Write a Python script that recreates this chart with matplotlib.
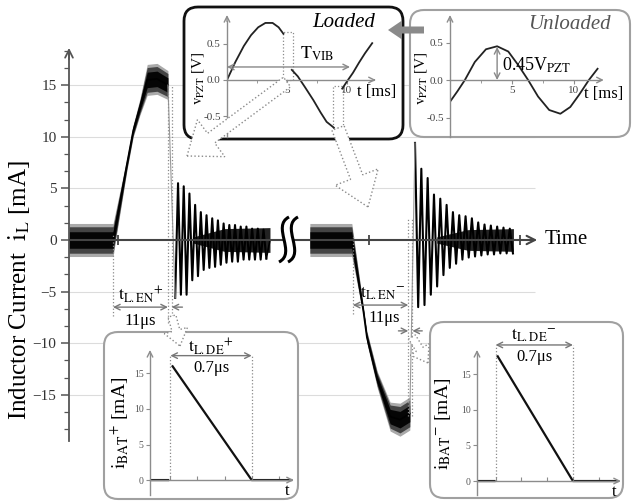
import matplotlib
matplotlib.use("Agg")
import matplotlib.pyplot as plt
import numpy as np
from matplotlib.patches import FancyBboxPatch, FancyArrow, Rectangle, PathPatch
from matplotlib.path import Path

plt.rcParams["font.family"] = ["Liberation Serif", "DejaVu Serif"]
plt.rcParams["mathtext.fontset"] = "stix"

W, H = 634, 501

# ---- main trace: time [us], inductor current [mA]
# positive harvesting event (left half)
pos_t = [0.0, 8.5, 11.2, 12.4, 13.7, 15.1, 17.0, 19.1]
pos_i = [0.0, 0.0, 7.4, 10.6, 12.9, 15.5, 15.6, 15.0]
pos_band = [1.6, 1.6, 0.6, 0.6, 0.8, 1.5, 1.5, 1.4]
pos_ring_start, pos_ring_half = 20.5, 0.55
pos_ring_hi = [5.5, 5.2, 4.5, 3.4, 2.7, 2.4, 2.1, 1.9, 1.6, 1.45, 1.45, 1.3, 1.3, 1.1, 1.1, 1.0]
pos_ring_lo = [-5.6, -5.3, -5.3, -3.9, -3.5, -2.9, -2.7, -2.6, -2.4, -2.2, -2.1, -2.1,
               -1.9, -1.9, -1.9, -1.9, -1.8]
pos_tail_t = [24.0, 30.0, 38.8]
pos_tail_w = [0.3, 1.1, 1.2]

# negative harvesting event (right half)
neg_t = [46.5, 54.6, 56.8, 57.5, 59.5, 62.0, 63.9, 65.8]
neg_i = [0.0, 0.0, -6.8, -9.4, -13.5, -17.1, -17.4, -16.8]
neg_band = [1.6, 1.6, 0.5, 0.6, 0.8, 1.4, 1.6, 1.6]
neg_ring_start, neg_ring_half = 66.8, 0.61
neg_ring_hi = [9.4, 6.9, 6.0, 4.4, 4.0, 3.4, 2.7, 2.4, 2.3, 2.1, 1.7, 1.5, 1.4, 1.3, 1.2, 1.1]
neg_ring_lo = [-6.5, -6.3, -5.3, -4.5, -3.4, -2.7, -2.3, -1.9, -1.7, -1.6, -1.5, -1.4,
               -1.4, -1.3, -1.3, -1.3]
neg_tail_t = [71.0, 77.0, 85.8]
neg_tail_w = [0.3, 1.0, 1.1]

grid_levels = [-15, -10, -5, 5, 10, 15]
axis_marks = [9.4, 57.9, 87.0]

# ---- loaded / unloaded PZT voltage: time [ms], voltage [V]
load_t1 = [0.0, 0.7, 1.4, 2.0, 2.6, 3.2, 3.8, 4.3, 4.7]
load_v1 = [0.0, 0.25, 0.47, 0.62, 0.73, 0.79, 0.79, 0.73, 0.64]
load_t2 = [5.4, 5.9, 6.5, 7.2, 7.8, 8.3, 8.9]
load_v2 = [0.14, 0.05, -0.1, -0.28, -0.45, -0.58, -0.66]
load_t3 = [9.6, 10.0, 10.5, 11.0, 11.5, 12.1]
load_v3 = [-0.12, -0.02, 0.1, 0.24, 0.37, 0.51]
unload_t = [0.0, 0.6, 1.2, 2.0, 2.9, 3.8, 4.7, 5.5, 6.3, 7.1, 8.0, 8.9, 9.7, 10.4, 11.2, 11.9]
unload_v = [-0.29, -0.15, 0.0, 0.24, 0.41, 0.45, 0.38, 0.2, 0.0, -0.22, -0.4, -0.45,
            -0.36, -0.2, 0.0, 0.15]

# ---- battery current: time [us], current [mA]
bat_p_t = [0.0, 0.16, np.nan, 0.2, 0.9, 1.25]
bat_p_i = [0.0, 0.0, np.nan, 16.0, 0.0, 0.0]
bat_n_t = [0.0, 0.16, np.nan, 0.19, 0.88, 1.28]
bat_n_i = [0.0, 0.0, np.nan, 17.5, 0.0, 0.0]

AX = "#8c8c8c"
DOT = "#8a8a8a"


def px_axes(fig, x0, y0, x1, y1, z):
    a = fig.add_axes([x0 / W, 1 - y1 / H, (x1 - x0) / W, (y1 - y0) / H], zorder=z)
    a.patch.set_visible(False)
    return a


def ring(start, half, hi, lo, first_low=True):
    vals = []
    a, b = (lo, hi) if first_low else (hi, lo)
    for k in range(max(len(a), len(b))):
        if k < len(a):
            vals.append(a[k])
        if k < len(b):
            vals.append(b[k])
    t = start + half * np.arange(len(vals))
    return t, np.array(vals)


def trace(ax, t, i, band):
    t, i, band = np.asarray(t), np.asarray(i), np.asarray(band)
    ax.fill_between(t, i - band, i + band, color="#aaa", lw=0)
    ax.fill_between(t, i - 0.8 * band, i + 0.8 * band, color="#444", lw=0)
    ax.fill_between(t, i - 0.5 * band, i + 0.5 * band, color="#050505", lw=0)
    ax.plot(t, i, color="black", lw=1.2)


def style_inset(a, xb, yb, xarrow, yarrow):
    for s in ("top", "right"):
        a.spines[s].set_visible(False)
    a.spines["bottom"].set_position(("data", 0))
    a.spines["left"].set_position(("data", 0))
    a.spines["bottom"].set_bounds(*xb)
    a.spines["left"].set_bounds(*yb)
    for s in ("bottom", "left"):
        a.spines[s].set_color(AX)
        a.spines[s].set_linewidth(1.0)
    a.tick_params(length=3, width=0.8, color=AX, labelsize=8, labelcolor="#444", pad=1.5)
    a.annotate("", xy=(xarrow, 0), xytext=(xb[1] - 0.01, 0), annotation_clip=False,
               arrowprops=dict(arrowstyle="->", color=AX, lw=1.0, shrinkA=0, shrinkB=0,
                               mutation_scale=10))
    a.annotate("", xy=(0, yarrow), xytext=(0, yb[1] - 0.01), annotation_clip=False,
               arrowprops=dict(arrowstyle="->", color=AX, lw=1.0, shrinkA=0, shrinkB=0,
                               mutation_scale=10))


fig = plt.figure(figsize=(W / 100, H / 100), dpi=100)

# ---------------- main axes ----------------
ax = px_axes(fig, 69, 48, 540, 445, 0)
ax.set_xlim(0, 90.93)
ax.set_ylim(-19.85, 18.59)
for s in ("top", "right", "bottom"):
    ax.spines[s].set_visible(False)
ax.spines["left"].set_bounds(-19.5, 18.2)
ax.spines["left"].set_color("#555")
ax.spines["left"].set_linewidth(1.3)
ax.set_xticks([])
ax.set_yticks([-15, -10, -5, 0, 5, 10, 15])
ax.set_yticks(np.arange(-55, 56, 5) / 3.0, minor=True)
ax.tick_params(axis="y", which="major", length=6, width=1.1, color="#555", labelsize=11,
               labelcolor="#333", pad=3)
ax.tick_params(axis="y", which="minor", length=3.5, width=0.9, color="#555")
ax.set_ylim(-19.85, 18.59)
ax.annotate("", xy=(0, 18.6), xytext=(0, 17.5), annotation_clip=False,
            arrowprops=dict(arrowstyle="->", color="#555", lw=1.3, shrinkA=0, shrinkB=0,
                            mutation_scale=14))
ax.hlines(grid_levels, 0, 90, colors="#dcdcdc", lw=0.8, zorder=0)

# x axis with break
ax.hlines(0, 0, 41.3, colors="#444", lw=1.5, zorder=3)
ax.hlines(0, 43.3, 89.0, colors="#444", lw=1.5, zorder=3)
ax.annotate("", xy=(90.4, 0), xytext=(88.5, 0), annotation_clip=False,
            arrowprops=dict(arrowstyle="->", color="#444", lw=1.5, shrinkA=0, shrinkB=0,
                            mutation_scale=15))
ax.plot(axis_marks, [0] * len(axis_marks), ls="none", marker="|", ms=7, mew=1.3,
        color="#444", zorder=4)
ax.text(91.9, 0, "Time", fontsize=15, va="center", ha="left", clip_on=False)

# traces
trace(ax, pos_t, pos_i, pos_band)
trace(ax, neg_t, neg_i, neg_band)
ax.fill_between(pos_tail_t, -np.array(pos_tail_w), pos_tail_w, color="#222", lw=0)
ax.fill_between(neg_tail_t, -np.array(neg_tail_w), neg_tail_w, color="#222", lw=0)
rt, ri = ring(pos_ring_start, pos_ring_half, pos_ring_hi, pos_ring_lo, first_low=True)
ax.plot(rt, ri, color="black", lw=1.5)
ax.plot([pos_t[-1], rt[0]], [pos_i[-1], ri[0]], color="#999", lw=0.8)
ax.plot([rt[-1], 38.8], [ri[-1], 0], color="black", lw=1.2)
rt2, ri2 = ring(neg_ring_start, neg_ring_half, neg_ring_hi, neg_ring_lo, first_low=False)
ax.plot(rt2, ri2, color="black", lw=1.5)
ax.plot([neg_t[-1], rt2[0]], [neg_i[-1], ri2[0]], color="#999", lw=0.8)

# enable-time annotations
arrow_kw = dict(color="#777", lw=1.0, shrinkA=0, shrinkB=0, mutation_scale=10)
ax.vlines([8.5], -7.4, 0.5, colors=DOT, lw=0.9, ls=":")
ax.vlines([19.1, 19.8], -8.0, 15.0, colors=DOT, lw=0.9, ls=":")
ax.annotate("", xy=(8.5, -6.5), xytext=(19.1, -6.5), arrowprops=dict(arrowstyle="<->", **arrow_kw))
ax.annotate("", xy=(19.8, -6.5), xytext=(21.9, -6.5), arrowprops=dict(arrowstyle="->", **arrow_kw))
ax.text(13.8, -5.3, r"$\mathrm{{t_{L.EN}}}^{+}$", fontsize=13, ha="center", va="center")
ax.text(13.8, -7.8, "11μs", fontsize=12, ha="center", va="center")

ax.vlines([54.8], -7.2, 0.5, colors=DOT, lw=0.9, ls=":")
ax.vlines([65.5, 66.3], -17.0, 2.0, colors=DOT, lw=0.9, ls=":")
ax.annotate("", xy=(54.8, -6.3), xytext=(65.5, -6.3), arrowprops=dict(arrowstyle="<->", **arrow_kw))
ax.annotate("", xy=(65.5, -8.8), xytext=(63.6, -8.8), arrowprops=dict(arrowstyle="->", **arrow_kw))
ax.annotate("", xy=(66.3, -8.8), xytext=(68.2, -8.8), arrowprops=dict(arrowstyle="->", **arrow_kw))
ax.text(60.6, -5.2, r"$\mathrm{{t_{L.EN}}}^{-}$", fontsize=13, ha="center", va="center")
ax.text(60.9, -7.6, "11μs", fontsize=12, ha="center", va="center")

# ---------------- background overlay (boxes) ----------------
ovb = px_axes(fig, 0, 0, W, H, 1)
ovb.set_xlim(0, W)
ovb.set_ylim(H, 0)
ovb.axis("off")
boxes = [((184, 7, 403, 139), "#111", 2.0), ((410, 10, 630, 137), "#a0a0a0", 1.5),
         ((104, 332, 298, 499), "#a0a0a0", 1.5), ((430, 322, 623, 498), "#a0a0a0", 1.5)]
for (x0, y0, x1, y1), ec, lw in boxes:
    ovb.add_patch(FancyBboxPatch((x0 + 14, y0 + 14), x1 - x0 - 28, y1 - y0 - 28,
                                 boxstyle="round,pad=14", fc="white", ec=ec, lw=lw))

# ---------------- loaded inset ----------------
al = px_axes(fig, 227, 15, 380, 137, 2)
al.set_xlim(0, 12.75)
al.set_ylim(-0.79, 0.90)
style_inset(al, (0, 12.2), (-0.79, 0.82), 12.4, 0.90)
al.set_xticks([5, 10])
al.set_xticks([2.5, 7.5], minor=True)
al.set_yticks([-0.5, 0.0, 0.5])
al.set_yticklabels(["-0.5", "0.0", "0.5"])
al.tick_params(which="minor", length=2, color=AX)
for tt, vv in ((load_t1, load_v1), (load_t2, load_v2), (load_t3, load_v3)):
    al.plot(tt, vv, color="#222", lw=1.3)
al.add_patch(Rectangle((4.67, 0.0), 0.83, 0.67, fill=False, ec=DOT, lw=0.9, ls=":"))
al.add_patch(Rectangle((8.83, -0.667), 0.84, 0.584, fill=False, ec=DOT, lw=0.9, ls=":"))
al.annotate("", xy=(0, 0.18), xytext=(10.25, 0.18),
            arrowprops=dict(arrowstyle="<->", color="#888", lw=1.0, shrinkA=0, shrinkB=0,
                            mutation_scale=10))
al.text(7.5, 0.36, r"$\mathrm{T_{VIB}}$", fontsize=13, ha="center", va="center")
al.text(12.5, -0.17, "t [ms]", fontsize=12, ha="center", va="center", clip_on=False)
al.text(-2.45, 0.02, r"$\mathrm{v_{PZT}}$ [V]", fontsize=11, rotation=90, ha="center",
        va="center", clip_on=False)
al.text(9.7, 0.79, "Loaded", fontsize=15, style="italic", ha="center", va="center")

# ---------------- unloaded inset ----------------
au = px_axes(fig, 450, 15, 605, 137, 2)
au.set_xlim(0, 12.5)
au.set_ylim(-0.76, 0.867)
style_inset(au, (0, 12.1), (-0.76, 0.80), 12.4, 0.867)
au.set_xticks([5, 10])
au.set_xticks([2.5, 7.5], minor=True)
au.set_yticks([-0.5, 0.0, 0.5])
au.set_yticklabels(["-0.5", "0.0", "0.5"])
au.tick_params(which="minor", length=2, color=AX)
au.plot(unload_t, unload_v, color="#222", lw=1.3)
au.annotate("", xy=(3.8, 0.44), xytext=(3.8, 0.0),
            arrowprops=dict(arrowstyle="<->", color="#888", lw=1.0, shrinkA=0, shrinkB=0,
                            mutation_scale=10))
au.text(4.2, 0.2, r"0.45V$_{\mathrm{PZT}}$", fontsize=13, ha="left", va="center")
au.text(12.4, -0.19, "t [ms]", fontsize=12, ha="center", va="center", clip_on=False)
au.text(-2.35, 0.02, r"$\mathrm{v_{PZT}}$ [V]", fontsize=11, rotation=90, ha="center",
        va="center", clip_on=False)
au.text(9.6, 0.74, "Unloaded", fontsize=15, style="italic", color="#555", ha="center",
        va="center")

# ---------------- battery current insets ----------------
for (x0, y0, x1, y1), tt, ii, ylo, yhi, ytop, edges, sign in (
        ((150, 340, 295, 495), bat_p_t, bat_p_i, -2.1, 19.7, 18.3, (0.18, 0.90), "+"),
        ((477, 330, 622, 495), bat_n_t, bat_n_i, -1.96, 21.2, 18.4, (0.17, 0.88), "-")):
    ab = px_axes(fig, x0, y0, x1, y1, 2)
    xmax = (x1 - x0) / (113 if sign == "+" else 109)
    ab.set_xlim(0, xmax)
    ab.set_ylim(ylo, yhi)
    style_inset(ab, (0, xmax - 0.04), (ylo, ytop - 0.5), xmax - 0.01, ytop)
    ab.set_ylim(ylo, yhi)
    ab.set_xticks([edges[0] + k * (edges[1] - edges[0]) / 3 for k in range(5)])
    ab.set_xticklabels([])
    ab.tick_params(axis="x", direction="in", length=3)
    ab.set_yticks([0, 5, 10, 15])
    ab.tick_params(axis="y", labelsize=7, labelcolor="#555", length=3)
    ab.plot(tt, ii, color="#111", lw=1.6)
    arr_y = ytop - 0.8 if sign == "+" else 19.1
    ab.vlines(edges, 0, arr_y, colors=DOT, lw=0.9, ls=":")
    ab.annotate("", xy=(edges[0], arr_y), xytext=(edges[1], arr_y),
                arrowprops=dict(arrowstyle="<->", color="#777", lw=1.0, shrinkA=0, shrinkB=0,
                                mutation_scale=10))
    mid = sum(edges) / 2
    ab.text(mid, arr_y + 1.3, r"$\mathrm{{t_{L.DE}}}^{%s}$" % sign, fontsize=13,
            ha="center", va="center", clip_on=False)
    ab.text(mid, arr_y - 1.7, "0.7μs", fontsize=12, ha="center", va="center")
    ab.text(xmax - 0.07, -1.5, "t", fontsize=12, ha="center", va="center", clip_on=False)
    ab.text(-0.27 if sign == "+" else -0.31, 8.0,
            r"$\mathrm{{i_{BAT}}}^{%s}$ [mA]" % sign, fontsize=14, rotation=90,
            ha="center", va="center", clip_on=False)

# ---------------- front overlay (arrows, break marks, labels) ----------------
ovf = px_axes(fig, 0, 0, W, H, 5)
ovf.set_xlim(0, W)
ovf.set_ylim(H, 0)
ovf.axis("off")


def hollow(x0, y0, x1, y1, w, hw, hl):
    ovf.add_patch(FancyArrow(x0, y0, x1 - x0, y1 - y0, width=w, head_width=hw,
                             head_length=hl, length_includes_head=True, fc="white",
                             ec="#8a8a8a", lw=1.0, ls=":"))


hollow(287, 82, 187, 156, 12, 46, 30)
hollow(338, 128, 368, 207, 13, 46, 32)
hollow(172, 316, 180, 346, 8, 24, 16)
hollow(412, 337, 428, 363, 8, 22, 16)
ovf.add_patch(FancyArrow(424, 30, -36, 0, width=7, head_width=19, head_length=14,
                         length_includes_head=True, fc="#8a8a8a", ec="none"))

for xc in (284, 293):
    verts = [(xc + 5, 217), (xc - 13, 226), (xc + 13, 253), (xc - 5, 262)]
    ovf.add_patch(PathPatch(Path(verts, [Path.MOVETO, Path.CURVE4, Path.CURVE4, Path.CURVE4]),
                            fill=False, ec="black", lw=2.2))

ovf.text(19, 290, r"Inductor Current  $\mathrm{i_L}$ [mA]", fontsize=18, rotation=90,
         ha="center", va="center")

fig.savefig("out.png", dpi=100)
